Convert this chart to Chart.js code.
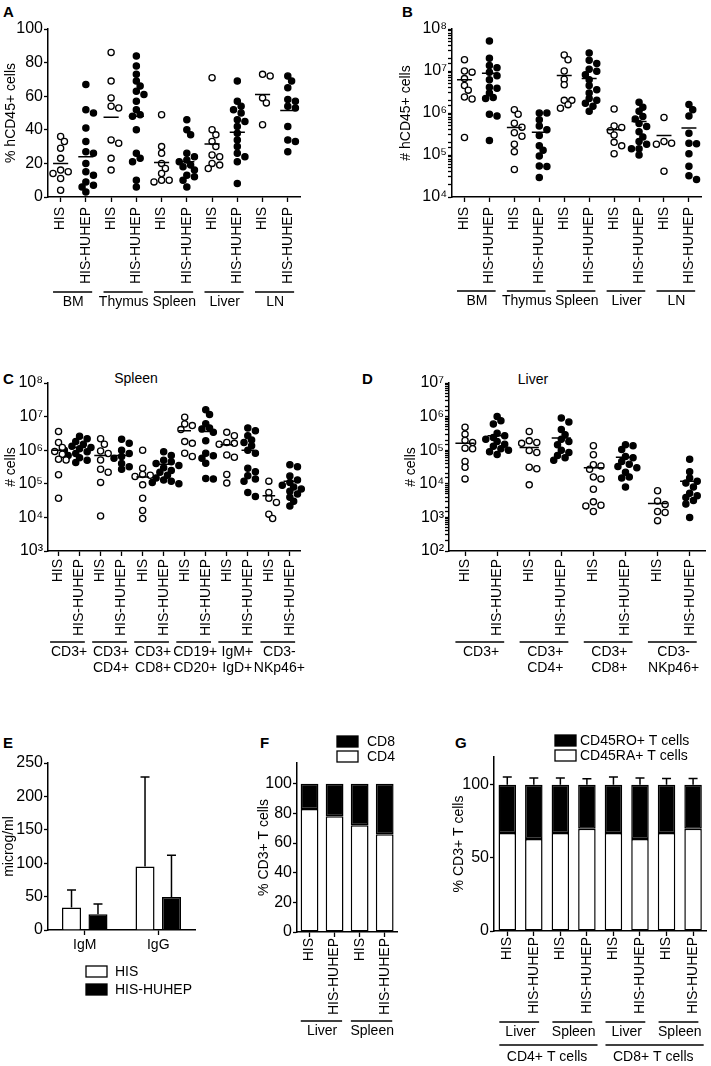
<!DOCTYPE html>
<html lang="en">
<head>
<meta charset="UTF-8" />
<title>HIS vs HIS-HUHEP</title>
<style>
  body { margin: 0; background: #fff; font-family: 'Liberation Sans', Arial, Helvetica, sans-serif; color: #000; }
  #page { position: relative; width: 711px; height: 1066px; overflow: hidden; background: #fff; }
  canvas { position: absolute; }
  .tag { position: absolute; font-weight: bold; font-size: 15px; line-height: 1; }
  .sub { position: absolute; font-size: 14px; line-height: 1; width: 100px; text-align: center; }
</style>
</head>
<body>
<div id="page">
  <div class="tag" style="left:3px;top:4px">A</div>
  <div class="tag" style="left:402px;top:4px">B</div>
  <div class="tag" style="left:3px;top:371px">C</div>
  <div class="tag" style="left:362px;top:371px">D</div>
  <div class="tag" style="left:3px;top:735px">E</div>
  <div class="tag" style="left:260px;top:735px">F</div>
  <div class="tag" style="left:455px;top:735px">G</div>
  <div class="sub" style="left:86px;top:371px">Spleen</div>
  <div class="sub" style="left:483px;top:372px">Liver</div>
  <canvas id="chartA"></canvas>
  <canvas id="chartB"></canvas>
  <canvas id="chartC"></canvas>
  <canvas id="chartD"></canvas>
  <canvas id="chartE"></canvas>
  <canvas id="chartF"></canvas>
  <canvas id="chartG"></canvas>
</div>

<script src="https://cdn.jsdelivr.net/npm/chart.js@4"></script>
<script>
// ---- A / B: columns and organs
const columnsAB = ['HIS', 'HIS-HUHEP', 'HIS', 'HIS-HUHEP', 'HIS', 'HIS-HUHEP', 'HIS', 'HIS-HUHEP', 'HIS', 'HIS-HUHEP'];
const organsAB = ['BM', 'Thymus', 'Spleen', 'Liver', 'LN'];

// A: % hCD45+ cells, one list per column
const pctHCD45 = [
  [36, 33, 29, 23, 16, 15, 14, 11, 4],
  [67, 52, 50, 41, 33, 27, 26, 20, 15, 13, 9, 7, 6, 3],
  [86, 69, 59, 54, 53, 34, 32, 23, 16],
  [84, 78, 73, 69, 66, 63, 61, 57, 52, 49, 48, 40, 26, 23, 21, 10, 6],
  [49, 30, 26, 20, 17, 14, 10, 10, 9],
  [46, 40, 37, 26, 24, 22, 21, 19, 18, 16, 13, 12, 10, 6],
  [71, 40, 37, 33, 30, 25, 24, 20, 19, 17],
  [69, 57, 54, 52, 50, 46, 45, 42, 38, 34, 30, 26, 24, 21, 8],
  [73, 72, 59, 56, 43],
  [72, 69, 65, 58, 57, 54, 53, 42, 34, 33, 27]
];
const meanPctHCD45 = [20, 24, 47.5, 48, 20.5, 21, 31.5, 38.5, 61, 51.5];

// B: # hCD45+ cells
const numHCD45 = [
  [1.85e7, 1e7, 9.4e6, 6.6e6, 4.5e6, 3.5e6, 2.4e6, 2.15e6, 2.6e5],
  [5.2e7, 2e7, 1.36e7, 1.2e7, 9.3e6, 7.7e6, 6.2e6, 4.1e6, 3.9e6, 3e6, 2.35e6, 2.2e6, 9.3e5, 8.5e5, 2.2e5],
  [1.2e6, 9.3e5, 5.7e5, 4.6e5, 3.4e5, 2.8e5, 1.8e5, 1.2e5, 4.5e4],
  [1e6, 1e6, 6.9e5, 4.9e5, 4e5, 2.9e5, 1.66e5, 1.3e5, 9.5e4, 5.5e4, 5.3e4, 2.9e4],
  [2.4e7, 1.85e7, 1e7, 6.4e6, 4.7e6, 2e6, 2e6, 1.58e6, 1.3e6],
  [2.7e7, 1.8e7, 1.5e7, 1.1e7, 9.8e6, 8.1e6, 6.2e6, 4.5e6, 3.6e6, 3e6, 2.2e6, 2e6, 1.7e6, 1.45e6, 1.1e6],
  [1.25e6, 4.9e5, 4.5e5, 3.8e5, 3e5, 2e5, 1.65e5, 1.07e5],
  [1.8e6, 1.38e6, 1.1e6, 8.3e5, 7.2e5, 5.6e5, 4.8e5, 3.6e5, 2.7e5, 2.1e5, 1.8e5, 1.4e5, 1.4e5, 1e5],
  [7.8e5, 2.1e5, 1.9e5, 1.8e5, 4.1e4],
  [1.6e6, 1.2e6, 8.5e5, 3.3e5, 1.9e5, 1.85e5, 1.07e5, 5.4e4, 3.2e4, 2.6e4]
];
const meanNumHCD45 = [6.2e6, 8.9e6, 4.5e5, 3.5e5, 7.8e6, 6.6e6, 4e5, 6.3e5, 2.9e5, 4.4e5];

// C: spleen subsets, # cells
const columnsC = ['HIS', 'HIS-HUHEP', 'HIS', 'HIS-HUHEP', 'HIS', 'HIS-HUHEP', 'HIS', 'HIS-HUHEP', 'HIS', 'HIS-HUHEP', 'HIS', 'HIS-HUHEP'];
const subsetsC = [['CD3+'], ['CD3+', 'CD4+'], ['CD3+', 'CD8+'], ['CD19+', 'CD20+'], ['IgM+', 'IgD+'], ['CD3-', 'NKp46+']];
const spleenCells = [
  [3.6e6, 1.7e6, 1.2e6, 9.1e5, 7.6e5, 5.4e5, 5.1e5, 1.85e5, 3.7e4],
  [2.6e6, 2.2e6, 1.8e6, 1.5e6, 1.3e6, 1.2e6, 1.1e6, 1e6, 9e5, 8e5, 7e5, 6e5, 5e5, 4.3e5],
  [2.2e6, 1.5e6, 9.5e5, 8e5, 5.1e5, 2.7e5, 2.2e5, 1.1e5, 1.1e4],
  [2.1e6, 1.6e6, 1e6, 8e5, 6.5e5, 5.8e5, 4e5, 3.2e5, 2.7e5],
  [1e6, 2.9e5, 1.9e5, 1.8e5, 1.65e5, 9.3e4, 3.7e4, 1.6e4, 9.3e3],
  [9e5, 7e5, 5e5, 4.5e5, 4e5, 3.5e5, 3e5, 2.5e5, 2.2e5, 1.8e5, 1.5e5, 1.3e5, 1.2e5, 1.1e5, 1e5],
  [9.6e6, 6e6, 5.4e6, 4.1e6, 1.8e6, 1.6e6, 8.1e5, 6.5e5],
  [1.6e7, 1.15e7, 6.1e6, 4.6e6, 4.3e6, 3.4e6, 1.9e6, 8.1e5, 6.8e5, 5.8e5, 4.1e5, 1.45e5, 1.4e5],
  [3.4e6, 2.7e6, 1.7e6, 1.6e6, 1.5e6, 7.2e5, 6.2e5, 1.9e5, 1.05e5],
  [4.6e6, 3.8e6, 2.7e6, 2e6, 1.7e6, 1.35e6, 1e6, 8.1e5, 2.9e5, 2.3e5, 1.75e5, 1.4e5, 1.2e5, 5.5e4, 4.2e4],
  [1.2e5, 5.5e4, 3.7e4, 2.8e4, 1.25e4, 9.3e3],
  [3.7e5, 3.2e5, 1.7e5, 1.3e5, 1.1e5, 9e4, 8e4, 7e4, 6e4, 5e4, 4e4, 3e4, 2.2e4]
];
const meanSpleenCells = [1e6, 1.2e6, 7e5, 7e5, 1.6e5, 3.8e5, 3.8e6, 3.6e6, 1.45e6, 1e6, 4.4e4, 1.2e5];

// D: liver subsets, # cells
const columnsD = ['HIS', 'HIS-HUHEP', 'HIS', 'HIS-HUHEP', 'HIS', 'HIS-HUHEP', 'HIS', 'HIS-HUHEP'];
const subsetsD = [['CD3+'], ['CD3+', 'CD4+'], ['CD3+', 'CD8+'], ['CD3-', 'NKp46+']];
const liverCells = [
  [4.8e5, 3e5, 1.95e5, 1.7e5, 1.15e5, 1.1e5, 4.6e4, 3.1e4, 1.4e4],
  [1e6, 7.5e5, 6e5, 3.2e5, 2.7e5, 2.4e5, 2.1e5, 1.8e5, 1.5e5, 1.3e5, 1.1e5, 1e5, 9e4, 7.5e4],
  [3.6e5, 1.9e5, 1.7e5, 1.6e5, 9.8e4, 8.5e4, 3.1e4, 2.8e4, 9.3e3],
  [9.1e5, 6.9e5, 4.1e5, 2.9e5, 2.1e5, 1.8e5, 1.45e5, 1e5, 8.5e4, 7e4, 6e4, 5e4],
  [1.35e5, 7.3e4, 3.7e4, 3.4e4, 2.7e4, 1.6e4, 1.4e4, 6.9e3, 2.9e3, 2.3e3, 2.2e3, 1.5e3],
  [1.45e5, 1.35e5, 1.05e5, 6.5e4, 6e4, 4.6e4, 3.8e4, 3.3e4, 3e4, 2.2e4, 1.6e4, 1.5e4, 8e3],
  [6.2e3, 3.1e3, 2.4e3, 1.5e3, 1.4e3, 8e2],
  [5.4e4, 2.3e4, 1.5e4, 1.2e4, 1.05e4, 8e3, 5.2e3, 4.4e3, 3.9e3, 3.2e3, 2.5e3, 1e3]
];
const meanLiverCells = [1.6e5, 2.7e5, 1.2e5, 2.3e5, 3e4, 6.2e4, 2.6e3, 1.2e4];

// E: serum immunoglobulins (microg/ml), mean and SD
const igClasses = ['IgM', 'IgG'];
const igHIS = [33.5, 95];
const igHISsd = [26.5, 134];
const igHUHEP = [23.5, 49.5];
const igHUHEPsd = [15.5, 62.5];

// F: CD4/CD8 share of CD3+ T cells
const columnsF = ['HIS', 'HIS-HUHEP', 'HIS', 'HIS-HUHEP'];
const organsF = ['Liver', 'Spleen'];
const cd4Share = [83, 78, 72, 66];
const cd8Share = [17, 22, 28, 34];

// G: naive / memory share of CD3+ T cells
const columnsG = ['HIS', 'HIS-HUHEP', 'HIS', 'HIS-HUHEP', 'HIS', 'HIS-HUHEP', 'HIS', 'HIS-HUHEP'];
const organsG = ['Liver', 'Spleen', 'Liver', 'Spleen'];
const subsetsG = ['CD4+ T cells', 'CD8+ T cells'];
const naiveShare = [67, 63, 67, 70, 67, 63, 67, 70];
const memoryShare = [33, 37, 33, 30, 33, 37, 33, 30];
const memorySem = [5.3, 4.6, 4.6, 4.1, 5.3, 4.6, 4.3, 4.3];

// ---- common look
const FONT = "'Liberation Sans', Arial, Helvetica, sans-serif";
Chart.defaults.font.family = FONT;
Chart.defaults.font.size = 14;
Chart.defaults.color = '#000';
Chart.defaults.animation = false;
Chart.defaults.events = [];
Chart.defaults.plugins.legend.display = false;
Chart.defaults.plugins.tooltip.enabled = false;

const AXIS = { display: true, color: '#000', width: 1.5 };
const DOT_STEP = 3.8, DOT_GAP = 5.6;

function tickGrid(len) {
  return { display: true, drawOnChartArea: false, drawTicks: true, tickLength: len, color: '#000', tickWidth: 1.3 };
}
function yTitle(text, pad) {
  return { display: true, text, color: '#000', font: { size: 14 }, padding: { top: pad, bottom: 0 } };
}
function sup(n) {
  return String(n).split('').map(d => '⁰¹²³⁴⁵⁶⁷⁸⁹'[+d]).join('');
}
function isDecade(v) {
  const l = Math.log10(v);
  return Math.abs(l - Math.round(l)) < 1e-6;
}

function linearY(title, max, step, top) {
  return {
    type: 'linear', min: 0, max, border: AXIS, grid: tickGrid(4),
    afterBuildTicks: s => { s.ticks = s.ticks.filter(t => t.value <= top); },
    ticks: { stepSize: step, padding: 1, autoSkip: false, font: { size: 16 } },
    title: yTitle(title, 3)
  };
}
function logY(title, min, max, minor) {
  return {
    type: 'logarithmic', min, max, border: AXIS, grid: tickGrid(4),
    afterBuildTicks: s => { if (!minor) s.ticks = s.ticks.filter(t => isDecade(t.value)); },
    ticks: { padding: 1, autoSkip: false, font: { size: 16 }, callback: v => isDecade(v) ? '10' + sup(Math.round(Math.log10(v))) : '' },
    title: yTitle(title, 3)
  };
}
function dotX(labels, pad) {
  return {
    type: 'linear', min: -0.5, max: labels.length - 0.5, border: AXIS, grid: tickGrid(5),
    afterBuildTicks: s => { s.ticks = labels.map((_, i) => ({ value: i })); },
    ticks: { autoSkip: false, minRotation: 90, maxRotation: 90, padding: pad, callback: v => labels[v] }
  };
}
function barX(labels, pad, rotate) {
  return {
    type: 'category', labels, offset: true, border: AXIS, grid: Object.assign(tickGrid(5), { offset: false }),
    ticks: { autoSkip: false, minRotation: rotate ? 90 : 0, maxRotation: rotate ? 90 : 0, padding: pad }
  };
}

// place canvas, then pin the plot area with padding + fixed axis sizes
function makePanel(id, rect, area, config) {
  const cv = document.getElementById(id);
  cv.width = rect.w; cv.height = rect.h;
  cv.style.left = rect.x + 'px'; cv.style.top = rect.y + 'px';
  const yW = area.left - rect.x, xH = rect.y + rect.h - area.bottom;
  config.options.responsive = false;
  config.options.layout = { padding: { top: area.top - rect.y, right: rect.x + rect.w - area.right, left: 0, bottom: 0 } };
  config.options.scales.y.afterFit = s => { s.width = yW; };
  config.options.scales.x.afterFit = s => { s.height = xH; };
  return new Chart(cv, config);
}

// brackets + names under the rotated column labels
function groupLabels(rows) {
  return {
    id: 'groupLabels',
    afterDraw(chart) {
      const { ctx, chartArea } = chart;
      const xs = chart.scales.x;
      ctx.save();
      ctx.strokeStyle = '#000'; ctx.fillStyle = '#000'; ctx.lineWidth = 1.5;
      ctx.font = '14px ' + FONT; ctx.textAlign = 'center'; ctx.textBaseline = 'middle';
      rows.forEach(r => r.labels.forEach((lab, g) => {
        const i0 = g * r.span, i1 = i0 + r.span - 1;
        const ly = chartArea.bottom + r.lineDy;
        ctx.beginPath();
        ctx.moveTo(xs.getPixelForValue(i0 - r.pre), ly);
        ctx.lineTo(xs.getPixelForValue(i1 + r.post), ly);
        ctx.stroke();
        const cx = (xs.getPixelForValue(i0) + xs.getPixelForValue(i1)) / 2;
        [].concat(lab).forEach((t, k) => ctx.fillText(t, cx, chartArea.bottom + r.textDy + k * 16));
      }));
      ctx.restore();
    }
  };
}

function boxLegend(x, y, row, gap, items) {
  return {
    id: 'boxLegend',
    afterDraw(chart) {
      const ctx = chart.ctx;
      ctx.save();
      ctx.font = '14px ' + FONT; ctx.textBaseline = 'middle'; ctx.lineWidth = 1.3;
      items.forEach((di, k) => {
        const ds = chart.data.datasets[di];
        const top = y + k * row;
        ctx.fillStyle = ds.backgroundColor; ctx.fillRect(x, top, 21, 11);
        ctx.strokeStyle = '#000'; ctx.strokeRect(x, top, 21, 11);
        ctx.fillStyle = '#000'; ctx.fillText(ds.label, x + gap, top + 6);
      });
      ctx.restore();
    }
  };
}

function errorBars(sets) {
  return {
    id: 'errorBars',
    afterDatasetsDraw(chart) {
      const ctx = chart.ctx, ys = chart.scales.y;
      ctx.save();
      ctx.strokeStyle = '#000'; ctx.lineWidth = 1.5;
      sets.forEach(s => chart.getDatasetMeta(s.ds).data.forEach((bar, i) => {
        const y0 = ys.getPixelForValue(s.tops[i]);
        const y1 = ys.getPixelForValue(s.tops[i] + s.err[i]);
        ctx.beginPath();
        ctx.moveTo(bar.x, y0); ctx.lineTo(bar.x, y1);
        ctx.moveTo(bar.x - 4.5, y1); ctx.lineTo(bar.x + 4.5, y1);
        ctx.stroke();
      }));
      ctx.restore();
    }
  };
}

function meanSegments(means, half) {
  const pts = [];
  means.forEach((m, i) => pts.push({ x: i - half, y: m }, { x: i + half, y: m }, { x: i + half, y: null }));
  return pts;
}

// simple beeswarm: shift a dot sideways until it no longer sits on an earlier one
function spreadDots(chart, series) {
  const xs = chart.scales.x, ys = chart.scales.y;
  const unit = xs.getPixelForValue(1) - xs.getPixelForValue(0);
  const open = [], filled = [];
  series.forEach((vals, i) => {
    const placed = [];
    vals.forEach(v => {
      const py = ys.getPixelForValue(v);
      let dx = 0;
      for (let k = 0; k < 40; k++) {
        dx = (k % 2 ? 1 : -1) * Math.ceil(k / 2) * DOT_STEP;
        if (placed.every(p => (p.dx - dx) ** 2 + (p.py - py) ** 2 >= DOT_GAP ** 2)) break;
      }
      placed.push({ dx, py });
      (i % 2 ? filled : open).push({ x: i + dx / unit, y: v });
    });
  });
  chart.data.datasets[1].data = open;
  chart.data.datasets[2].data = filled;
  chart.update('none');
}

function dotPanel(id, rect, area, labels, series, means, yScale, rows, pad) {
  const chart = makePanel(id, rect, area, {
    type: 'scatter',
    data: {
      datasets: [
        { label: 'mean', data: meanSegments(means, 0.3), showLine: true, borderColor: '#000', borderWidth: 1.5, pointRadius: 0, clip: false },
        { label: 'HIS', data: [], pointRadius: 3.1, pointBorderWidth: 1.3, pointBackgroundColor: '#fff', pointBorderColor: '#000', clip: false },
        { label: 'HIS-HUHEP', data: [], pointRadius: 3.1, pointBorderWidth: 1.3, pointBackgroundColor: '#000', pointBorderColor: '#000', clip: false }
      ]
    },
    options: { scales: { x: dotX(labels, pad), y: yScale } },
    plugins: [groupLabels(rows)]
  });
  spreadDots(chart, series);
  return chart;
}

// ---- A
dotPanel('chartA', { x: 0, y: 15, w: 310, h: 300 }, { left: 48, top: 29, right: 302, bottom: 197 },
  columnsAB, pctHCD45, meanPctHCD45, linearY('% hCD45+ cells', 100, 20, 100),
  [{ labels: organsAB, span: 2, lineDy: 95, textDy: 105, pre: 0.3, post: 0.25 }], 5);

// ---- B
dotPanel('chartB', { x: 395, y: 15, w: 316, h: 300 }, { left: 452, top: 29, right: 707, bottom: 197 },
  columnsAB, numHCD45, meanNumHCD45, logY('# hCD45+ cells', 1e4, 1e8, true),
  [{ labels: organsAB, span: 2, lineDy: 94, textDy: 104, pre: 0.3, post: 0.25 }], 5);

// ---- C
dotPanel('chartC', { x: 0, y: 365, w: 310, h: 320 }, { left: 48, top: 383, right: 302, bottom: 551 },
  columnsC, spleenCells, meanSpleenCells, logY('# cells', 1e3, 1e8, false),
  [{ labels: subsetsC, span: 2, lineDy: 91, textDy: 101, pre: 0.4, post: 0.25 }], 3);

// ---- D
dotPanel('chartD', { x: 400, y: 365, w: 311, h: 320 }, { left: 449, top: 383, right: 707, bottom: 551 },
  columnsD, liverCells, meanLiverCells, logY('# cells', 1e2, 1e7, true),
  [{ labels: subsetsD, span: 2, lineDy: 91, textDy: 101, pre: 0.3, post: 0.22 }], 3);

// ---- E
const yE = linearY('microg/ml', 250, 50, 250);
yE.title.padding = { top: 1, bottom: 0 };
makePanel('chartE', { x: 0, y: 745, w: 210, h: 265 }, { left: 48, top: 763, right: 195, bottom: 930 }, {
  type: 'bar',
  data: {
    labels: igClasses,
    datasets: [
      { label: 'HIS', data: igHIS, backgroundColor: '#fff', borderColor: '#000', borderWidth: 1.5, barPercentage: 0.72, categoryPercentage: 0.72 },
      { label: 'HIS-HUHEP', data: igHUHEP, backgroundColor: '#000', borderColor: '#000', borderWidth: 1.5, barPercentage: 0.72, categoryPercentage: 0.72 }
    ]
  },
  options: { scales: { x: barX(igClasses, 2, false), y: yE } },
  plugins: [
    errorBars([{ ds: 0, tops: igHIS, err: igHISsd }, { ds: 1, tops: igHUHEP, err: igHUHEPsd }]),
    boxLegend(86, 221, 18, 29, [0, 1])
  ]
});

// ---- F
const xF = barX(columnsF, 1, true); xF.stacked = true;
const yF = linearY('% CD3+ T cells', 114, 20, 100); yF.stacked = true;
makePanel('chartF', { x: 253, y: 725, w: 150, h: 315 }, { left: 297, top: 763, right: 399, bottom: 932 }, {
  type: 'bar',
  data: {
    labels: columnsF,
    datasets: [
      { label: 'CD4', data: cd4Share, backgroundColor: '#fff', borderColor: '#000', borderWidth: 1.5, borderSkipped: false, barPercentage: 0.71, categoryPercentage: 1 },
      { label: 'CD8', data: cd8Share, backgroundColor: '#000', borderColor: '#000', borderWidth: 1.5, borderSkipped: false, barPercentage: 0.71, categoryPercentage: 1 }
    ]
  },
  options: { scales: { x: xF, y: yF } },
  plugins: [
    groupLabels([{ labels: organsF, span: 2, lineDy: 89, textDy: 99, pre: 0.35, post: 0.3 }]),
    boxLegend(84, 11, 15, 30, [1, 0])
  ]
});

// ---- G
const xG = barX(columnsG, 1, true); xG.stacked = true;
const yG = linearY('% CD3+ T cells', 119, 50, 100); yG.stacked = true;
makePanel('chartG', { x: 448, y: 725, w: 263, h: 341 }, { left: 494, top: 757, right: 709, bottom: 931 }, {
  type: 'bar',
  data: {
    labels: columnsG,
    datasets: [
      { label: 'CD45RA+ T cells', data: naiveShare, backgroundColor: '#fff', borderColor: '#000', borderWidth: 1.5, borderSkipped: false, barPercentage: 0.66, categoryPercentage: 1 },
      { label: 'CD45RO+ T cells', data: memoryShare, backgroundColor: '#000', borderColor: '#000', borderWidth: 1.5, borderSkipped: false, barPercentage: 0.66, categoryPercentage: 1 }
    ]
  },
  options: { scales: { x: xG, y: yG } },
  plugins: [
    errorBars([{ ds: 1, tops: naiveShare.map((v, i) => v + memoryShare[i]), err: memorySem }]),
    groupLabels([
      { labels: organsG, span: 2, lineDy: 91, textDy: 101, pre: 0.3, post: 0.2 },
      { labels: subsetsG, span: 4, lineDy: 114, textDy: 126, pre: 0.3, post: 0.4 }
    ]),
    boxLegend(107, 10, 15, 25, [1, 0])
  ]
});
</script>
</body>
</html>
